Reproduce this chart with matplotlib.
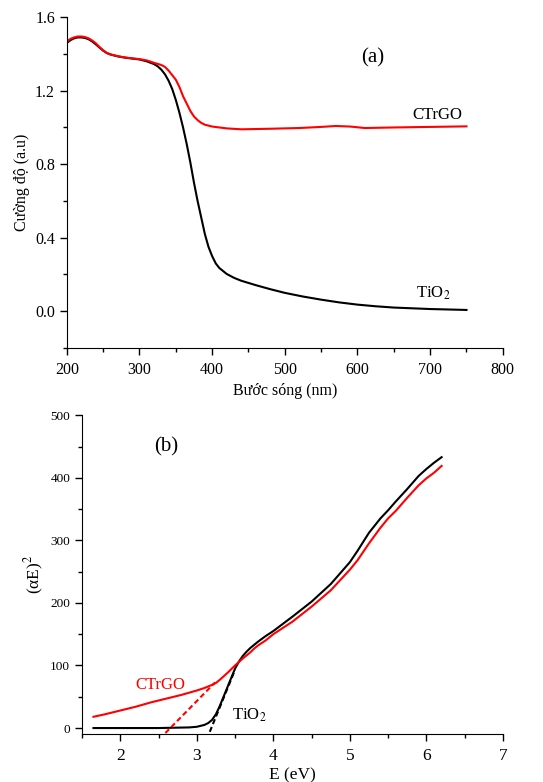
import matplotlib as mpl
import matplotlib.pyplot as plt
from matplotlib.ticker import MultipleLocator
import numpy as np

mpl.rc('font', family=['Liberation Serif', 'DejaVu Serif'])
mpl.rc('mathtext', fontset='stix')

# (a) absorption spectra
wl = [200, 205, 210, 215, 220, 225, 230, 235, 240, 245, 250, 255, 260, 270,
      280, 290, 300, 310, 320, 325, 330, 335, 340, 345, 350, 355, 360, 365,
      370, 375, 380, 385, 390, 395, 400, 405, 410, 420, 430, 440, 460, 480,
      500, 525, 550, 575, 600, 625, 650, 700, 750]
abs_tio2 = [1.46, 1.475, 1.485, 1.49, 1.49, 1.487, 1.48, 1.468, 1.452, 1.435,
            1.418, 1.405, 1.397, 1.387, 1.38, 1.375, 1.37, 1.36, 1.345, 1.333,
            1.315, 1.29, 1.255, 1.21, 1.15, 1.08, 1.00, 0.91, 0.81, 0.70,
            0.60, 0.51, 0.42, 0.35, 0.30, 0.26, 0.235, 0.203, 0.182, 0.166,
            0.142, 0.12, 0.10, 0.08, 0.063, 0.048, 0.036, 0.027, 0.02, 0.012,
            0.007]
wl_r = [200, 205, 210, 215, 220, 225, 230, 235, 240, 245, 250, 255, 260, 270,
        280, 290, 300, 310, 320, 330, 335, 340, 345, 350, 355, 360, 365, 370,
        375, 380, 385, 390, 400, 420, 440, 480, 520, 550, 570, 590, 610, 650,
        700, 750]
abs_ctrgo = [1.467, 1.482, 1.49, 1.495, 1.495, 1.492, 1.485, 1.473, 1.458,
             1.438, 1.42, 1.406, 1.398, 1.388, 1.381, 1.376, 1.372, 1.365,
             1.352, 1.34, 1.33, 1.31, 1.285, 1.26, 1.22, 1.17, 1.13, 1.09,
             1.06, 1.04, 1.025, 1.015, 1.005, 0.995, 0.99, 0.993, 0.997,
             1.003, 1.008, 1.005, 0.997, 1.0, 1.003, 1.006]

# (b) Tauc plot
e_tio2 = [1.65, 2.0, 2.5, 2.9, 3.0, 3.1, 3.15, 3.2, 3.25, 3.3, 3.35, 3.4,
          3.45, 3.5, 3.55, 3.6, 3.65, 3.7, 3.8, 3.9, 4.0, 4.25, 4.5, 4.75,
          5.0, 5.1, 5.25, 5.4, 5.5, 5.6, 5.75, 5.9, 6.0, 6.1, 6.2]
ae_tio2 = [0, 0, 0, 1, 2, 5, 8, 13, 22, 35, 50, 65, 80, 95, 106, 115, 122,
           128, 138, 147, 155, 178, 202, 230, 265, 283, 312, 335, 348, 362,
           382, 403, 414, 424, 433]
e_ctrgo = [1.65, 1.8, 2.0, 2.2, 2.4, 2.6, 2.8, 3.0, 3.1, 3.2, 3.25, 3.3,
           3.4, 3.5, 3.6, 3.7, 3.75, 3.8, 3.9, 4.0, 4.25, 4.5, 4.75, 5.0,
           5.1, 5.25, 5.4, 5.5, 5.6, 5.75, 5.9, 6.0, 6.1, 6.2]
ae_ctrgo = [18, 22, 28, 34, 41, 47, 53, 60, 64, 69, 72, 77, 88, 100, 111,
            121, 127, 132, 140, 150, 170, 194, 220, 253, 268, 295, 320, 335,
            347, 368, 388, 399, 408, 419]
fit_ctrgo_e = [2.59, 3.24]
fit_ctrgo_v = [-8, 73]
fit_tio2_e = [3.17, 3.5]
fit_tio2_v = [-6, 93]


def style_axes(ax):
    ax.spines['top'].set_visible(False)
    ax.spines['right'].set_visible(False)
    ax.tick_params(which='major', direction='out', length=5, width=1)
    ax.tick_params(which='minor', direction='out', length=3, width=1)


fig = plt.figure(figsize=(5.43, 7.82), dpi=100)

# ---- panel (a)
ax1 = fig.add_axes([0.123, 0.555, 0.803, 0.423])
ax1.plot(wl, abs_tio2, color='black', lw=1.5)
ax1.plot(wl_r, abs_ctrgo, color='red', lw=1.5)
ax1.set_xlim(200, 800)
ax1.set_ylim(-0.2, 1.6)
ax1.xaxis.set_major_locator(MultipleLocator(100))
ax1.xaxis.set_minor_locator(MultipleLocator(50))
ax1.yaxis.set_major_locator(MultipleLocator(0.4))
ax1.yaxis.set_minor_locator(MultipleLocator(0.2))
ax1.yaxis.set_major_formatter(mpl.ticker.FormatStrFormatter('%.1f'))
style_axes(ax1)
ax1.tick_params(labelsize=11.5)
ax1.tick_params(axis='x', pad=5)
ax1.set_xlabel('Bước sóng (nm)', fontsize=11.5, labelpad=4)
ax1.set_ylabel('Cường độ (a.u)', fontsize=11.5, labelpad=4)
ax1.text(621, 1.377, '(a)', fontsize=15, ha='center', va='center')
ax1.text(710, 1.07, 'CTrGO', fontsize=12, ha='center', va='center')
ax1.text(705, 0.095, 'TiO$_2$', fontsize=12, ha='center', va='center')

# ---- panel (b)
ax2 = fig.add_axes([0.151, 0.061, 0.775, 0.408])
ax2.plot(e_tio2, ae_tio2, color='black', lw=1.5)
ax2.plot(e_ctrgo, ae_ctrgo, color='red', lw=1.5)
ax2.plot(fit_ctrgo_e, fit_ctrgo_v, color='red', lw=1.5, ls=(0, (2.5, 1.5)))
ax2.plot(fit_tio2_e, fit_tio2_v, color='black', lw=1.5, ls=(0, (2.5, 1.5)))
ax2.set_xlim(1.5, 7)
ax2.set_ylim(-10, 500)
ax2.xaxis.set_major_locator(MultipleLocator(1))
ax2.xaxis.set_minor_locator(MultipleLocator(0.5))
ax2.yaxis.set_major_locator(MultipleLocator(100))
ax2.yaxis.set_minor_locator(MultipleLocator(50))
style_axes(ax2)
ax2.tick_params(axis='x', labelsize=12.5, pad=5)
ax2.tick_params(axis='y', labelsize=9.5)
ax2.set_xlabel('E (eV)', fontsize=12.5, labelpad=2)
ax2.set_ylabel('(αE)$^2$', fontsize=12.5, labelpad=3)
ax2.text(2.6, 449, '(b)', fontsize=15, ha='center', va='center')
ax2.text(2.52, 69, 'CTrGO', fontsize=12, color='red', ha='center', va='center')
ax2.text(3.69, 21, 'TiO$_2$', fontsize=12, ha='center', va='center')

fig.savefig('out.png', dpi=100)
plt.close(fig)
